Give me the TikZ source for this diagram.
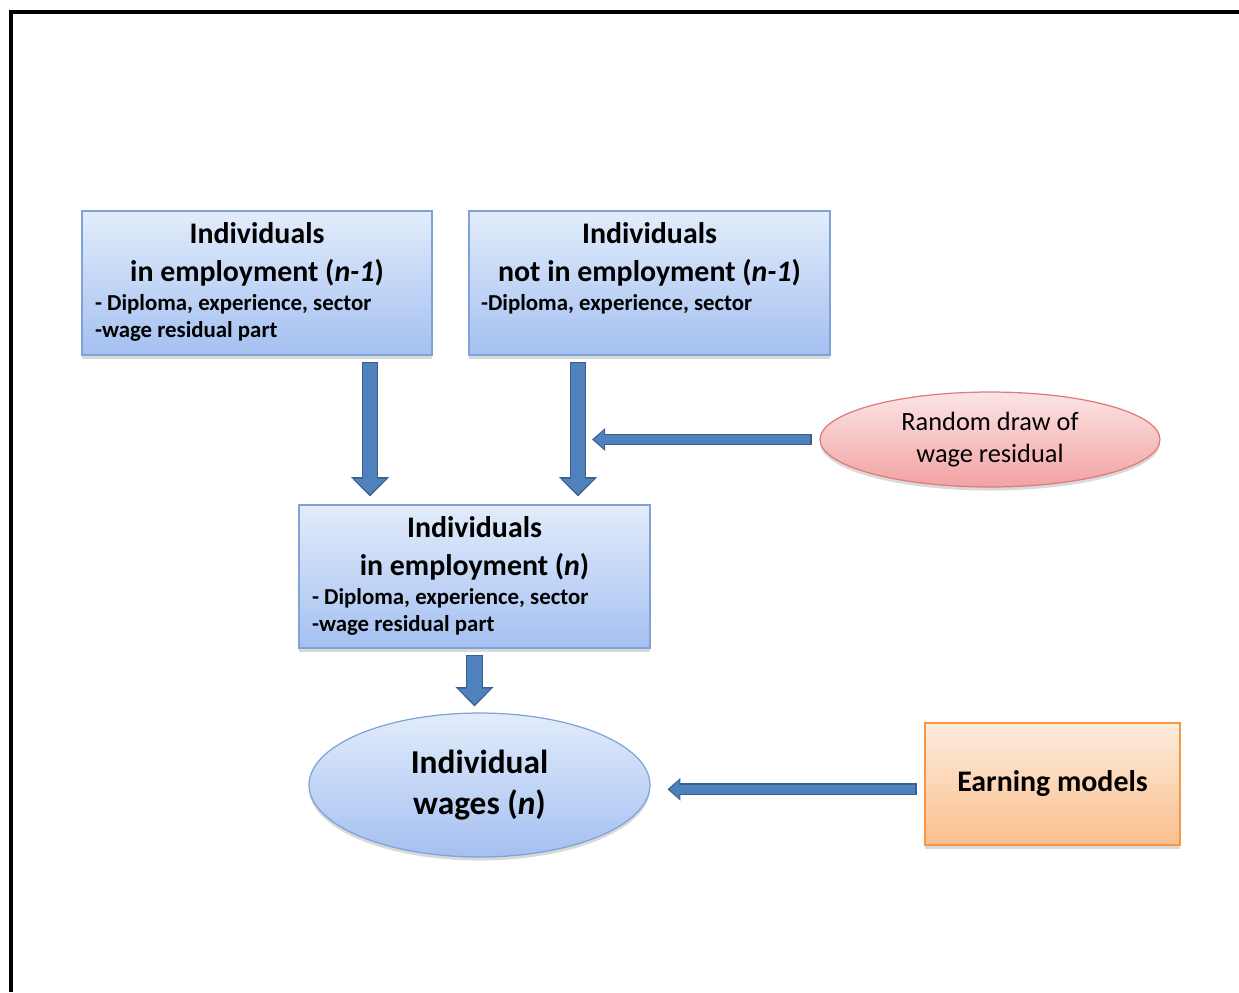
\documentclass[tikz,border=0pt]{standalone}
\usepackage{fontspec}
\setmainfont{Carlito}
\usetikzlibrary{shapes.geometric,arrows.meta,shadows}

\definecolor{boxtop}{HTML}{E2ECFB}
\definecolor{boxbot}{HTML}{A4C0F1}
\definecolor{boxedge}{HTML}{7FA3D6}
\definecolor{pinktop}{HTML}{FCE4E4}
\definecolor{pinkbot}{HTML}{F2A2A2}
\definecolor{pinkedge}{HTML}{DC7C7C}
\definecolor{orangetop}{HTML}{FDECDD}
\definecolor{orangebot}{HTML}{FABF8D}
\definecolor{orangeedge}{HTML}{F79646}
\definecolor{arrowfill}{HTML}{4F81BD}
\definecolor{arrowedge}{HTML}{3A5F8E}

\tikzset{
  softshadow/.style={drop shadow={shadow xshift=0pt,shadow yshift=-2pt,opacity=0.25,fill=black!60}},
  infobox/.style={draw=boxedge,line width=0.7pt,top color=boxtop,bottom color=boxbot,
    inner sep=0pt,softshadow},
  bluedisc/.style={ellipse,draw=boxedge,line width=0.7pt,top color=boxtop,bottom color=boxbot,
    inner sep=0pt,align=center,softshadow},
  pinkdisc/.style={ellipse,draw=pinkedge,line width=0.7pt,top color=pinktop,bottom color=pinkbot,
    inner sep=0pt,align=center,softshadow},
  orangebox/.style={draw=orangeedge,line width=0.7pt,top color=orangetop,bottom color=orangebot,
    inner sep=0pt,softshadow},
  % thick block arrows: #1 gap at the tail, #2 gap at the tip
  downarrow/.style 2 args={draw=arrowedge,line width=9.6pt,-{Triangle[width=21pt,length=11pt]},
    shorten <=#1,shorten >=#2,
    postaction={draw=arrowfill,line width=8pt,-{Triangle[width=18pt,length=9pt]},
      shorten <={#1+0.8pt},shorten >={#2+1.2pt}}},
  leftarrow/.style 2 args={draw=arrowedge,line width=6.8pt,-{Triangle[width=12.5pt,length=7.4pt]},
    shorten <=#1,shorten >=#2,
    postaction={draw=arrowfill,line width=5.4pt,-{Triangle[width=10.4pt,length=5.6pt]},
      shorten <={#1+0.7pt},shorten >={#2+1.2pt}}},
}

\begin{document}
\begin{tikzpicture}[x=0.02cm,y=-0.02cm]
\useasboundingbox (0,0) rectangle (1239,992);
\draw[line width=1.8pt] (11,992) |- (1239,12);

% boxes of year n-1
\node[infobox,minimum width=7cm,minimum height=2.88cm] (empA) at (257,283)
  {\parbox[c][2.88cm][t]{6.48cm}{\vspace*{6.5pt}%
   {\centering\fontsize{17}{21.5}\selectfont\bfseries Individuals\\ in employment (\textit{n-1})\par}
   \vspace{1pt}%
   {\fontsize{13}{15.5}\selectfont\bfseries - Diploma, experience, sector\\ -wage residual part\par}}};
\node[infobox,minimum width=7.22cm,minimum height=2.88cm] (unempB) at (649.5,283)
  {\parbox[c][2.88cm][t]{6.74cm}{\vspace*{6.5pt}%
   {\centering\fontsize{17}{21.5}\selectfont\bfseries Individuals\\ not in employment (\textit{n-1})\par}
   \vspace{1pt}%
   {\fontsize{13}{15.5}\selectfont\bfseries -Diploma, experience, sector\par}}};

% box of year n
\node[infobox,minimum width=7.02cm,minimum height=2.86cm] (empN) at (474.5,576.5)
  {\parbox[c][2.86cm][t]{6.5cm}{\vspace*{6.5pt}%
   {\centering\fontsize{17}{21.5}\selectfont\bfseries Individuals\\ in employment (\textit{n})\par}
   \vspace{1pt}%
   {\fontsize{13}{15.5}\selectfont\bfseries - Diploma, experience, sector\\ -wage residual part\par}}};

\node[pinkdisc,minimum width=6.8cm,minimum height=1.9cm,font=\fontsize{15}{18.5}\selectfont] (draw) at (990,439.5)
  {Random draw of\\ wage residual};
\node[bluedisc,minimum width=6.82cm,minimum height=2.88cm,font=\fontsize{19}{23}\selectfont\bfseries] (wages) at (479.5,785)
  {Individual\\ wages (\textit{n})};
\node[orangebox,minimum width=5.1cm,minimum height=2.44cm,font=\fontsize{17}{20}\selectfont\bfseries] (earn) at (1052.5,784)
  {Earning models};

\coordinate (c1) at (370,0);
\coordinate (c2) at (578,0);
\draw[downarrow={3.4pt}{4.5pt}] (empA.south -| c1) -- (empN.north -| c1);
\draw[downarrow={3.4pt}{4.5pt}] (unempB.south -| c2) -- (empN.north -| c2);
\draw[leftarrow={4.5pt}{8pt}] (draw.west) -- (draw.west -| c2);
\draw[downarrow={3.4pt}{3.4pt}] (empN.south) -- (empN.south |- wages.north);
\draw[leftarrow={4.5pt}{9.6pt}] ([yshift=-3pt]earn.west) -- ([yshift=-3pt]earn.west -| wages.east);
\end{tikzpicture}
\end{document}
